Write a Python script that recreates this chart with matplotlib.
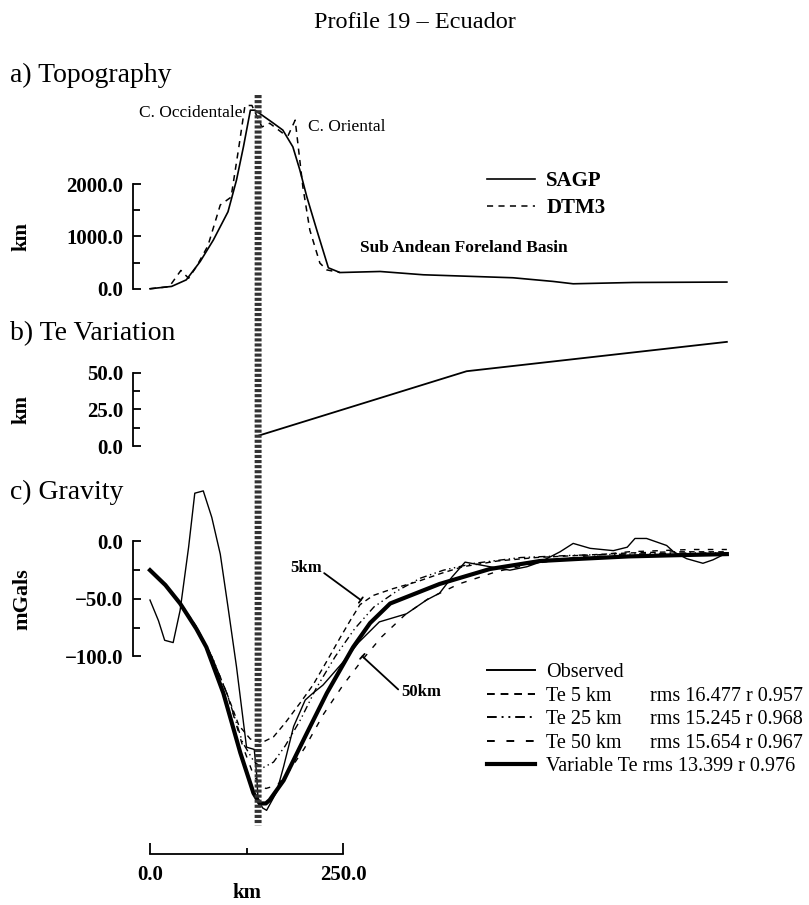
import numpy as np
import matplotlib
matplotlib.use("Agg")
import matplotlib.pyplot as plt
import matplotlib.transforms as mtransforms
from matplotlib.patches import ConnectionPatch

plt.rcParams['font.family'] = ['Liberation Serif', 'DejaVu Serif']

# ---- data ----
# topography, km along profile vs metres
sagp_x = [0, 28, 47, 65, 82, 101, 112, 121, 130, 136, 159, 172, 185, 194, 203, 216, 231, 246,
          298, 354, 470, 522, 548, 626, 747]
sagp_h = [0, 45, 170, 520, 930, 1470, 2075, 2710, 3410, 3410, 3170, 3030, 2710, 2270, 1760, 1120,
          400, 310, 330, 267, 210, 140, 95, 120, 128]
dtm_x = [0, 25, 40, 50, 60, 75, 91, 105, 115, 123, 132, 145, 155, 172, 179, 188, 192, 198, 207,
         220, 229, 246]
dtm_h = [0, 40, 350, 200, 420, 820, 1600, 1750, 2700, 3500, 3500, 3090, 3160, 2970, 2930, 3220,
         2710, 1940, 1120, 490, 360, 310]

# elastic thickness variation
te_x = [140, 275, 410, 747]
te_km = [7, 29, 51, 71]

# gravity
obs_x = [0, 11, 19, 30, 39, 50, 58, 69, 80, 91, 101, 112, 125, 135, 138, 140, 146, 151, 164, 173,
         186, 201, 211, 224, 250, 270, 297, 332, 358, 375, 391, 408, 440, 466, 488, 505, 531, 548,
         570, 600, 618, 628, 643, 669, 678, 695, 716, 729, 747]
obs_g = [-51, -69, -86, -88, -60, -5, 42, 44, 21, -11, -57, -109, -179, -181, -202, -225, -232,
         -234, -218, -196, -161, -138, -132, -125, -105, -88, -70, -63, -51, -45, -31, -18, -22,
         -25, -22, -18, -9, -1.7, -6, -8, -5, 2.6, 2.6, -3.5, -9, -15, -19, -16, -10]

var_x = [0, 20, 39, 60, 73, 95, 117, 134, 142, 150, 155, 173, 203, 229, 263, 285, 311, 375, 440,
         505, 560, 620, 680, 747]
var_g = [-25, -38, -54, -76, -92, -132, -184, -219, -228, -228, -225, -208, -167, -132, -92, -71,
         -54, -37, -24, -17, -15, -13, -12, -11]

te5_x = [0, 20, 40, 60, 80, 100, 115, 130, 145, 160, 175, 195, 211, 230, 246, 260, 272, 289, 315,
         346, 376, 405, 450, 500, 560, 620, 680, 747]
te5_g = [-25, -37, -54, -74, -100, -133, -160, -172, -175, -170, -158, -140, -125, -103, -84, -68,
         -55, -47, -41, -35, -28, -22, -17, -14, -12, -10, -9, -9]

te25_x = [0, 20, 40, 60, 80, 100, 120, 135, 146, 160, 175, 195, 215, 240, 265, 290, 320, 350, 380,
          420, 480, 550, 620, 700, 747]
te25_g = [-25, -38, -55, -75, -100, -133, -175, -192, -197, -192, -178, -155, -128, -100, -76, -57,
          -43, -32, -25, -19, -14, -12, -11, -10, -10]

te50_x = [0, 20, 40, 60, 80, 100, 120, 135, 150, 165, 180, 200, 225, 250, 275, 300, 330, 360, 400,
          450, 500, 560, 620, 700, 747]
te50_g = [-25, -38, -55, -75, -100, -133, -178, -205, -215, -212, -200, -180, -150, -125, -103, -83,
          -64, -50, -37, -26, -19, -13, -9, -7, -7]

legend_names = ["Observed", "Te 5 km", "Te 25 km", "Te 50 km", "Variable Te rms 13.399 r 0.976"]
rms_text = ["rms 16.477 r 0.957", "rms 15.245 r 0.968", "rms 15.654 r 0.967"]

W, H = 809, 905
fig = plt.figure(figsize=(W / 100, H / 100), dpi=100)

def ax_px(left, right, top, bottom):
    return fig.add_axes([left / W, 1 - bottom / H, (right - left) / W, (bottom - top) / H])

XL = (-22, 764)
ax1 = ax_px(133, 740, 95, 294)
ax2 = ax_px(133, 740, 336, 449)
ax3 = ax_px(133, 740, 484, 854)

def fmt(v):
    return ("%.1f" % v).replace("-", "\u2212")

def style_axis(ax, ylim, yticks, yminor, show_x=False):
    ax.set_xlim(*XL)
    ax.set_ylim(*ylim)
    for s in ['top', 'right']:
        ax.spines[s].set_visible(False)
    ax.spines['left'].set_bounds(yticks[0], yticks[-1])
    ax.spines['left'].set_linewidth(1.3)
    ax.set_yticks(yticks)
    ax.set_yticklabels([fmt(v) for v in yticks], fontweight='bold')
    ax.set_yticks(yminor, minor=True)
    ax.tick_params(axis='y', which='both', direction='in', width=1.3, labelsize=15, pad=7)
    ax.tick_params(axis='y', which='major', length=6)
    ax.tick_params(axis='y', which='minor', length=5)
    if not show_x:
        ax.spines['bottom'].set_visible(False)
        ax.set_xticks([])
    ax.patch.set_visible(False)

# a) topography
style_axis(ax1, (-100, 3700), [0, 1000, 2000], [500, 1500])
ax1.plot(sagp_x, sagp_h, color='k', lw=1.2, label='SAGP')
ax1.plot(dtm_x, dtm_h, color='k', lw=1.1, ls=(0, (4, 3.5)), label='DTM3')
ax1.text(120, 3350, "C. Occidentale", ha='right', va='center', fontsize=12.5)
ax1.text(205, 3090, "C. Oriental", ha='left', va='center', fontsize=12.5)
ax1.text(272, 780, "Sub Andean Foreland Basin", ha='left', va='center', fontsize=12.5,
         fontweight='bold')
ax1.legend(loc='upper left', bbox_to_anchor=(487 / W, 1 - 171 / H), bbox_transform=fig.transFigure,
           frameon=False, prop={'size': 15, 'weight': 'bold'}, handlelength=2.3, handletextpad=0.55,
           borderpad=0, borderaxespad=0, labelspacing=0.35)

# b) Te variation
style_axis(ax2, (-2, 75), [0, 25, 50], [12.5, 37.5])
ax2.plot(te_x, te_km, color='k', lw=1.3)

# c) gravity
style_axis(ax3, (-272, 50), [-100, -50, 0], [-75, -25], show_x=True)
ax3.spines['bottom'].set_bounds(0, 250)
ax3.spines['bottom'].set_linewidth(1.3)
ax3.set_xticks([0, 250])
ax3.set_xticklabels(["0.0", "250.0"], fontweight='bold')
ax3.set_xticks([125], minor=True)
ax3.tick_params(axis='x', which='both', direction='in', width=1.3, labelsize=15, pad=8)
ax3.tick_params(axis='x', which='major', length=8)
ax3.tick_params(axis='x', which='minor', length=4)

ax3.plot(obs_x, obs_g, color='k', lw=1.0, label=legend_names[0])
ax3.plot(te5_x, te5_g, color='k', lw=1.0, ls=(0, (4, 3)), label=legend_names[1])
ax3.plot(te25_x, te25_g, color='k', lw=1.0, ls=(0, (5, 2.5, 1, 2.5, 1, 2.5)), label=legend_names[2])
ax3.plot(te50_x, te50_g, color='k', lw=1.0, ls=(0, (4, 6)), label=legend_names[3])
ax3.plot(var_x, var_g, color='k', lw=3.0, label=legend_names[4])

ax3.annotate("5km", xy=(273, -51), xytext=(181, -23), fontsize=12, fontweight='bold',
             ha='left', va='center',
             arrowprops=dict(arrowstyle='-[,widthB=0.2,lengthB=0', color='k', lw=1.3,
                             relpos=(1, 0.3), shrinkA=0, shrinkB=0))
ax3.annotate("50km", xy=(275, -100), xytext=(325, -131), fontsize=12, fontweight='bold',
             ha='left', va='center',
             arrowprops=dict(arrowstyle='-[,widthB=0.2,lengthB=0', color='k', lw=1.3,
                             relpos=(0, 0.5), shrinkA=0, shrinkB=0))

leg = ax3.legend(loc='upper left', bbox_to_anchor=(487 / W, 1 - 663 / H), bbox_transform=fig.transFigure,
                 frameon=False, fontsize=14.5, handlelength=2.4, handletextpad=0.55, borderpad=0,
                 borderaxespad=0, labelspacing=0.22)
for line in leg.get_lines():
    if line.get_linewidth() < 2:
        line.set_linewidth(1.4)

# axis labels
for ax, yc, lab, fs in [(ax1, 1000, "km", 15), (ax2, 25, "km", 15), (ax3, -50, "mGals", 16)]:
    tr = mtransforms.blended_transform_factory(ax.transAxes, ax.transData)
    ax.text(-0.183, yc, lab, transform=tr, rotation=90, ha='center', va='center', fontsize=fs,
            fontweight='bold')
tr = mtransforms.blended_transform_factory(ax3.transData, fig.transFigure)
ax3.text(125, 1 - 893 / H, "km", transform=tr, ha='center', va='center', fontsize=15,
         fontweight='bold')

# dotted marker line through all panels
con = ConnectionPatch(xyA=(140, 3700), coordsA=ax1.transData, xyB=(140, -247), coordsB=ax3.transData,
                      color='0.2', lw=5, ls=(0, (0.45, 0.28)), capstyle='butt', zorder=5)
fig.add_artist(con)

# titles
fig.text(415 / W, 1 - 22 / H, "Profile 19 \u2013 Ecuador", ha='center', va='center', fontsize=17.5)
fig.text(10 / W, 1 - 75 / H, "a) Topography", ha='left', va='center', fontsize=20)
fig.text(10 / W, 1 - 334 / H, "b) Te Variation", ha='left', va='center', fontsize=20)
fig.text(10 / W, 1 - 492 / H, "c) Gravity", ha='left', va='center', fontsize=20)

# rms column aligned with legend rows
fig.canvas.draw()
for t, s in zip(leg.get_texts()[1:4], rms_text):
    bb = t.get_window_extent()
    fig.text(650 / W, bb.y0 / H, s, ha='left', va='bottom', fontsize=14.5)

fig.savefig("out.png", dpi=100)
